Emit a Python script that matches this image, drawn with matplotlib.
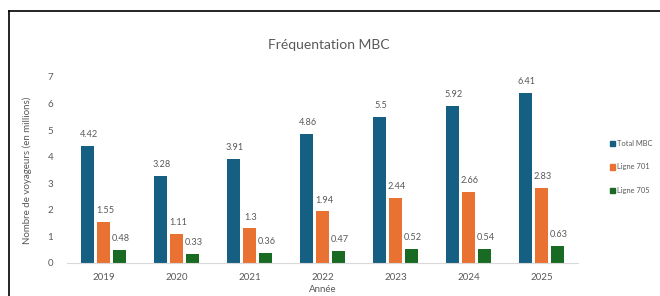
import matplotlib
matplotlib.use("Agg")
import matplotlib.pyplot as plt
from matplotlib.lines import Line2D
import numpy as np

plt.rcParams['font.family'] = ['Lato', 'DejaVu Sans']

years = ["2019", "2020", "2021", "2022", "2023", "2024", "2025"]
total_mbc = [4.42, 3.28, 3.91, 4.86, 5.5, 5.92, 6.41]
ligne_701 = [1.55, 1.11, 1.3, 1.94, 2.44, 2.66, 2.83]
ligne_705 = [0.48, 0.33, 0.36, 0.47, 0.52, 0.54, 0.63]
series_names = ["Total MBC", "Ligne 701", "Ligne 705"]
colors = ["#156082", "#E97132", "#196B24"]
labels_txt = [
    ["4.42", "3.28", "3.91", "4.86", "5.5", "5.92", "6.41"],
    ["1.55", "1.11", "1.3", "1.94", "2.44", "2.66", "2.83"],
    ["0.48", "0.33", "0.36", "0.47", "0.52", "0.54", "0.63"],
]

fig = plt.figure(figsize=(6.6, 2.96), dpi=100)
ax = fig.add_axes([67/660, 1-263/296, (578-67)/660, (263-77)/296])

x = np.arange(len(years))
width = 0.175
step = 0.222
text_col = "#595959"
for i, (vals, name, col) in enumerate(zip([total_mbc, ligne_701, ligne_705], series_names, colors)):
    xs = x + (i - 1) * step
    ax.bar(xs, vals, width, color=col, label=name)
    for xi, v, t in zip(xs, vals, labels_txt[i]):
        ax.annotate(t, (xi, v), xytext=(1, 5), textcoords="offset points",
                    ha="center", va="bottom", fontsize=6.6, color=text_col)

ax.set_xlim(-0.5, len(years) - 0.5)
ax.set_ylim(0, 7)
ax.set_yticks(range(0, 8))
ax.set_xticks(x)
ax.set_xticklabels(years)
for s in ["top", "right", "left"]:
    ax.spines[s].set_visible(False)
ax.spines["bottom"].set_color("#d9d9d9")
ax.spines["bottom"].set_linewidth(0.8)
ax.tick_params(axis="both", length=0, labelsize=7, colors=text_col)
ax.tick_params(axis="y", pad=10)
ax.tick_params(axis="x", pad=7)
ax.set_ylabel("Nombre de voyageurs (en millions)", fontsize=7, color=text_col, labelpad=11)
ax.set_xlabel("Année", fontsize=7, color=text_col, labelpad=2)

fig.text(329/660, 1-45/296, "Fréquentation MBC", ha="center", va="center",
         fontsize=10, color="#595959")

handles = [plt.Rectangle((0, 0), 1, 1, color=c) for c in colors]
leg = fig.legend(handles, series_names, loc="center left",
                 bbox_to_anchor=(610/660, 1-167/296), frameon=False,
                 fontsize=5.4, handlelength=0.7, handleheight=0.7,
                 handletextpad=0.25, labelspacing=2.2, borderaxespad=0,
                 borderpad=0)
for t in leg.get_texts():
    t.set_color(text_col)

# outer border lines (top and left)
fig.add_artist(Line2D([9/660, 1], [1-11/296, 1-11/296], color="black", lw=1.2,
                      transform=fig.transFigure))
fig.add_artist(Line2D([9/660, 9/660], [0, 1-11/296], color="black", lw=1.2,
                      transform=fig.transFigure))

fig.savefig("out.png", dpi=100)
